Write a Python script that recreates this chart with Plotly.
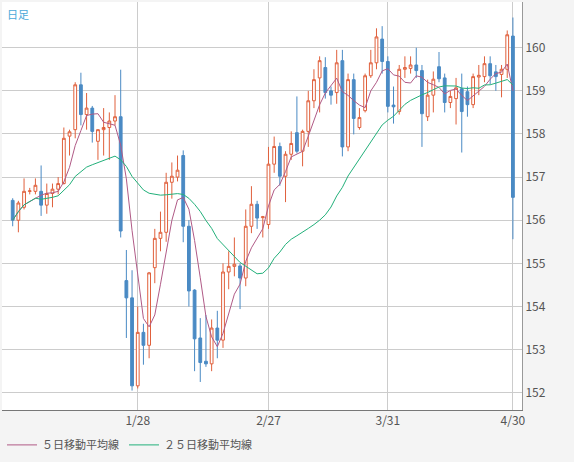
import plotly.graph_objects as go
import pandas as pd

opens = [156.46,156.0,156.3,156.67,156.67,156.67,156.35,156.62,156.72,156.85,157.95,158.1,159.14,158.45,158.6,157.83,158.1,158.15,158.3,158.4,154.6,154.2,152.16,
 153.4,153.1,154.9,155.58,155.72,156.88,157.0,157.5,155.86,154.38,153.27,152.73,152.67,153.5,153.22,154.8,154.93,154.94,154.66,155.86,156.37,156.06,155.9,
 157.3,157.71,157.02,157.53,158.03,157.6,158.06,158.77,159.3,159.54,159.0,158.96,159.7,157.7,159.26,158.15,158.54,159.35,159.65,160.2,159.68,158.67,
 158.52,159.5,159.52,159.6,159.47,158.4,158.9,159.56,159.3,158.73,158.82,159.05,158.98,158.68,159.32,159.33,159.63,159.44,159.38,159.5,160.27]
closes = [156.0,156.4,156.67,156.68,156.81,156.35,156.62,156.72,156.85,157.9,158.05,159.14,158.45,158.6,158.06,158.1,158.15,158.3,158.4,155.75,154.2,152.16,153.4,
 153.1,154.78,155.58,155.72,156.88,157.02,157.16,155.86,154.36,153.25,152.7,152.67,153.5,153.22,154.8,154.93,154.98,154.66,155.86,156.37,156.05,156.08,157.3,
 157.71,157.02,157.53,157.78,157.6,158.06,158.77,159.26,159.7,158.96,158.9,159.65,157.7,159.26,158.36,158.38,159.35,159.65,160.25,159.68,158.64,158.63,
 159.5,159.54,159.6,159.47,158.47,158.9,159.27,159.28,158.73,158.87,159.07,158.52,158.68,159.33,159.36,159.63,159.35,159.33,159.5,160.3,156.53]
highs = [156.51,156.45,156.97,156.75,156.97,157.27,156.85,156.85,157.0,158.15,158.1,159.2,159.42,158.95,158.65,158.1,158.6,158.5,158.9,159.49,155.31,154.84,154.0,
 153.6,154.8,155.8,156.2,157.1,157.34,157.5,157.62,156.0,154.4,153.73,153.8,153.7,153.9,155.0,155.28,155.6,155.0,156.25,156.79,156.45,156.1,157.7,
 157.94,157.8,157.6,158.06,158.87,158.1,159.0,159.5,159.8,159.78,159.1,159.95,159.95,159.4,159.4,158.6,159.4,159.95,160.45,160.5,159.8,159.1,
 159.6,159.8,159.8,160.0,159.6,159.26,159.45,159.9,159.4,159.0,159.3,159.4,159.1,159.4,159.6,159.8,159.8,159.6,159.6,160.4,160.7]
lows = [155.86,155.72,156.25,156.6,156.6,156.1,156.15,156.3,156.6,156.83,157.5,157.9,158.2,158.1,157.8,157.4,157.5,157.4,158.2,155.6,153.27,152.05,152.1,
 152.65,152.8,154.54,155.28,155.5,156.5,156.9,155.49,154.0,152.5,152.25,152.6,152.5,152.8,153.04,154.4,154.7,153.94,154.47,155.7,155.8,155.6,155.8,
 157.1,156.8,156.42,157.4,157.55,157.25,157.7,158.6,158.5,158.82,158.68,158.7,157.48,157.6,157.99,158.1,158.5,159.3,159.5,159.4,158.5,158.24,
 158.45,159.3,159.4,159.3,157.7,158.3,158.5,159.2,158.5,158.6,158.22,157.57,158.4,158.6,158.9,159.2,159.15,159.0,158.85,159.3,155.56]
tick_idx = [22, 45, 66, 88]
tick_labels = ["1/28", "2/27", "3/31", "4/30"]
y_ticks = [152, 153, 154, 155, 156, 157, 158, 159, 160]

x = list(range(len(opens)))
s = pd.Series(closes)
ma5 = s.rolling(5, min_periods=1).mean()
ma25 = s.rolling(25, min_periods=1).mean()

fig = go.Figure()
fig.add_trace(go.Candlestick(x=x, open=opens, high=highs, low=lows, close=closes, showlegend=False,
    increasing=dict(line=dict(color="#e0603c", width=1), fillcolor="#ffffff"),
    decreasing=dict(line=dict(color="#4a8ac4", width=1), fillcolor="#4a8ac4"),
    whiskerwidth=0, hoverinfo="skip"))
fig.add_trace(go.Scatter(x=x, y=ma5, mode="lines", line=dict(color="#b05a86", width=1), name="５日移動平均線"))
fig.add_trace(go.Scatter(x=x, y=ma25, mode="lines", line=dict(color="#22b07a", width=1), name="２５日移動平均線"))

fig.update_layout(width=574, height=462, margin=dict(l=2, r=52, t=2, b=52),
    paper_bgcolor="#f4f4f4", plot_bgcolor="#ffffff",
    font=dict(family="Noto Sans CJK JP", size=12, color="#444444"),
    legend=dict(orientation="h", x=0.0, y=-0.05, xanchor="left", yanchor="top",
                font=dict(size=11, color="#555555"), bgcolor="rgba(0,0,0,0)", itemwidth=30),
    annotations=[dict(text="日足", xref="paper", yref="paper", x=0.005, y=0.995, xanchor="left", yanchor="top",
                      showarrow=False, font=dict(size=11, color="#4aa8d8"))])
fig.update_xaxes(range=[-1.88, 89.6], tickvals=tick_idx, ticktext=tick_labels, showgrid=True,
    gridcolor="#cccccc", rangeslider_visible=False, showline=True, linecolor="#777777", mirror=False,
    zeroline=False, tickfont=dict(size=12, color="#555555"))
fig.update_yaxes(range=[151.6, 161.06], side="right", tickvals=y_ticks, showgrid=True, gridcolor="#cccccc",
    showline=True, linecolor="#999999", zeroline=False, tickfont=dict(size=12, color="#555555"))
fig.write_html("out.html", config={"displayModeBar": False},
               post_script="document.body.style.margin='0';document.body.style.padding='0';")
